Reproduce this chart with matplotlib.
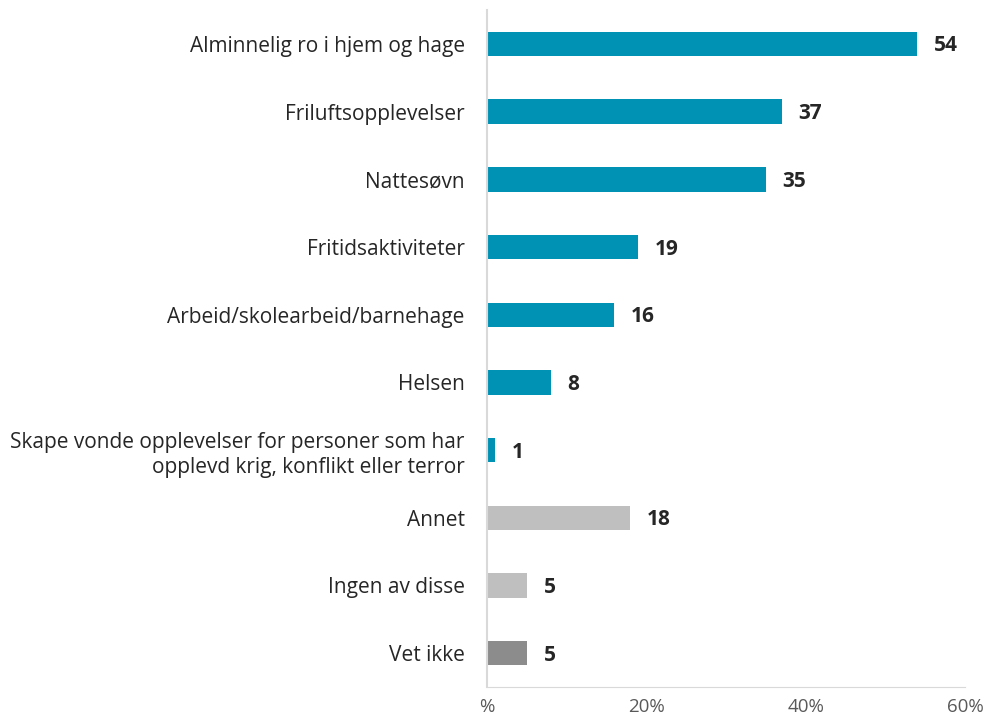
import matplotlib.pyplot as plt
from matplotlib.ticker import FuncFormatter

categories = [
    "Alminnelig ro i hjem og hage",
    "Friluftsopplevelser",
    "Nattesøvn",
    "Fritidsaktiviteter",
    "Arbeid/skolearbeid/barnehage",
    "Helsen",
    "Skape vonde opplevelser for personer som har\nopplevd krig, konflikt eller terror",
    "Annet",
    "Ingen av disse",
    "Vet ikke",
]
values = [54, 37, 35, 19, 16, 8, 1, 18, 5, 5]
colors = ["#0092B4"] * 7 + ["#BFBFBF", "#BFBFBF", "#8C8C8C"]

plt.rcParams['font.family'] = ['Open Sans', 'DejaVu Sans']

fig = plt.figure(figsize=(9.87, 7.22), dpi=100)
ax = fig.add_axes([0.4934, 0.0485, 0.4843, 0.9375])

y = list(range(len(categories)))
ax.barh(y, values, height=0.36, color=colors)

for yi, v in zip(y, values):
    ax.text(v + 2.1, yi + 0.03, str(v), va="center", ha="left",
            fontsize=15, fontweight="bold", color="#262626")

ax.set_ylim(len(categories) - 0.5, -0.5)
ax.set_xlim(0, 60)
ax.set_yticks(y)
ax.set_yticklabels(categories, fontsize=15, color="#262626", linespacing=1.25)
ax.set_xticks([0, 20, 40, 60])
ax.xaxis.set_major_formatter(FuncFormatter(lambda x, p: "%" if x == 0 else f"{int(x)}%"))
ax.tick_params(axis="x", labelsize=13.5, labelcolor="#595959", length=0, pad=8)
ax.tick_params(axis="y", length=0, pad=16)

for s in ["top", "right"]:
    ax.spines[s].set_visible(False)
ax.spines["left"].set_color("#D9D9D9")
ax.spines["bottom"].set_color("#D9D9D9")
ax.spines["left"].set_linewidth(1.5)

fig.savefig("out.png", dpi=100)
